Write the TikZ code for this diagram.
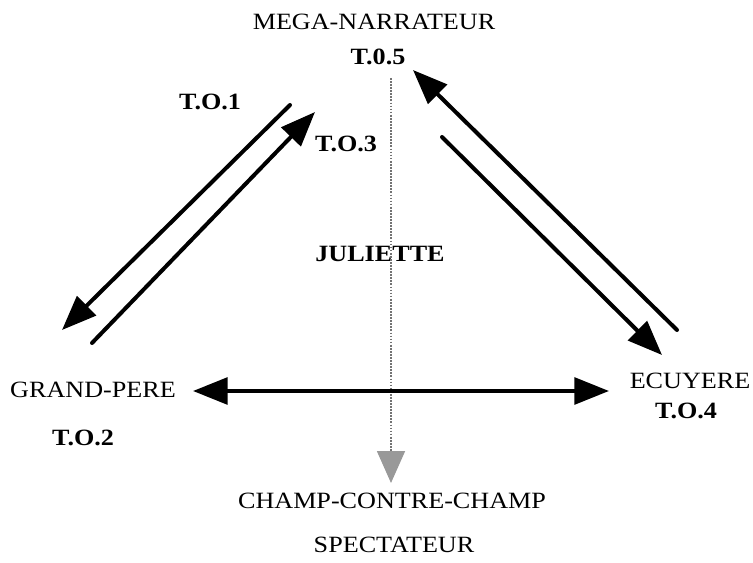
\documentclass[tikz,border=0pt]{standalone}
\usepackage{fontspec}
\setmainfont{Liberation Serif}[FakeStretch=1.12]
\usetikzlibrary{arrows.meta}
\begin{document}
\begin{tikzpicture}[x=0.75pt,y=-0.75pt]

\tikzset{lab/.style = {font=\fontsize{17.5}{20}\selectfont, inner sep=0pt, anchor=base}}
\tikzset{blab/.style = {lab, font=\fontsize{17.5}{20}\selectfont\bfseries}}
\tikzset{>={Triangle[length=26pt,width=20pt]}}
\tikzset{edge/.style = {->, line width=3pt, line cap=round}}
\tikzset{view/.style = {draw=gray!90!black, line width=1.3pt, densely dotted,
  -{Triangle[length=24pt,width=21pt,color=gray!80,fill=gray!80]}}}
\useasboundingbox (0,0) rectangle (753,563);
%labels
\node[lab]  (mega)  at (374,30)  {MEGA-NARRATEUR};
\node[blab] (to5)   at (378,65)  {T.0.5};
\node[blab] (to1)   at (210,110) {T.O.1};
\node[blab] (to3)   at (346,152) {T.O.3};
\node[blab] (jul)   at (380,261) {JULIETTE};
\node[lab]  (gp)    at (93,397)  {GRAND-PERE};
\node[blab] (to2)   at (83,445)  {T.O.2};
\node[lab]  (ecu)   at (690,388) {ECUYERE};
\node[blab] (to4)   at (686,418) {T.O.4};
\node[lab]  (champ) at (392,508) {CHAMP-CONTRE-CHAMP};
\node[lab]  (spec)  at (394,552) {SPECTATEUR};
%arrow ends
\coordinate (a1) at (290,105);
\coordinate (a2) at (62,330);
\coordinate (b1) at (92,343);
\coordinate (b2) at (315,112);
\coordinate (c1) at (677,330);
\coordinate (c2) at (413,70);
\coordinate (d1) at (442,137);
\coordinate (d2) at (662,355);
\coordinate (h1) at (193,391);
\coordinate (h2) at (609,391);
\coordinate (v1) at (391,78);
\coordinate (v2) at (391,483);
%arrows
\draw[view] (v1) -- (v2);
\draw[edge] (a1) -- (a2);
\draw[edge] (b1) -- (b2);
\draw[edge] (c1) -- (c2);
\draw[edge] (d1) -- (d2);
\draw[edge, <->] (h1) -- (h2);

\end{tikzpicture}
\end{document}
